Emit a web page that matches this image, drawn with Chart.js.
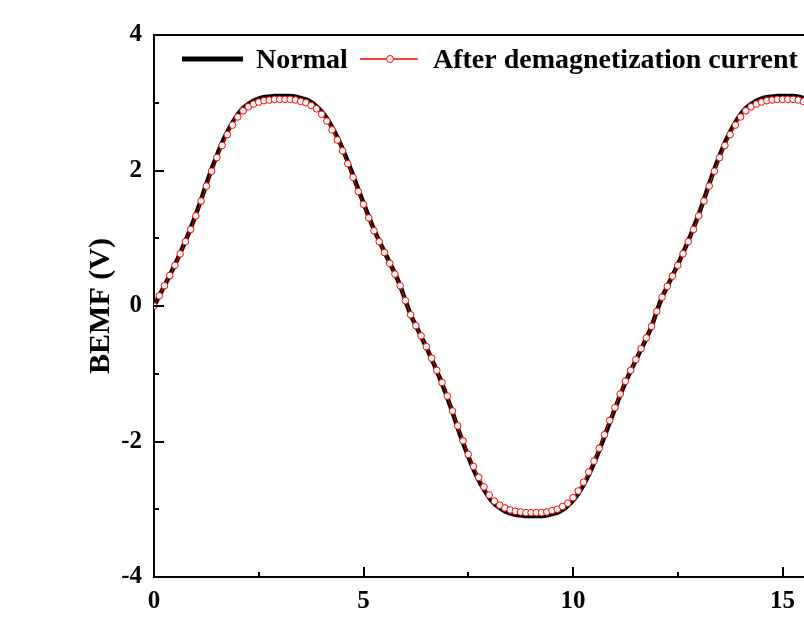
<!DOCTYPE html>
<html>
<head>
<meta charset="utf-8">
<script src="https://cdn.jsdelivr.net/npm/chart.js@4/dist/chart.umd.min.js"></script>
<style>
  html, body { margin: 0; padding: 0; width: 804px; height: 636px; overflow: hidden; background: #fff; }
  canvas { display: block; }
</style>
</head>
<body>
<canvas id="bemf" width="1000" height="636"></canvas>
<script>
// time axis (ms)
const timeMs = [
  0, 0.125, 0.25, 0.375, 0.5, 0.625, 0.75, 0.875,
  1, 1.125, 1.25, 1.375, 1.5, 1.625, 1.75, 1.875,
  2, 2.125, 2.25, 2.375, 2.5, 2.625, 2.75, 2.875,
  3, 3.125, 3.25, 3.375, 3.5, 3.625, 3.75, 3.875,
  4, 4.125, 4.25, 4.375, 4.5, 4.625, 4.75, 4.875,
  5, 5.125, 5.25, 5.375, 5.5, 5.625, 5.75, 5.875,
  6, 6.125, 6.25, 6.375, 6.5, 6.625, 6.75, 6.875,
  7, 7.125, 7.25, 7.375, 7.5, 7.625, 7.75, 7.875,
  8, 8.125, 8.25, 8.375, 8.5, 8.625, 8.75, 8.875,
  9, 9.125, 9.25, 9.375, 9.5, 9.625, 9.75, 9.875,
  10, 10.125, 10.25, 10.375, 10.5, 10.625, 10.75, 10.875,
  11, 11.125, 11.25, 11.375, 11.5, 11.625, 11.75, 11.875,
  12, 12.125, 12.25, 12.375, 12.5, 12.625, 12.75, 12.875,
  13, 13.125, 13.25, 13.375, 13.5, 13.625, 13.75, 13.875,
  14, 14.125, 14.25, 14.375, 14.5, 14.625, 14.75, 14.875,
  15, 15.125, 15.25, 15.375, 15.5, 15.625, 15.75, 15.875,
  16
];

const normal = [
  0, 0.15, 0.30, 0.45, 0.61, 0.78, 0.96, 1.15,
  1.35, 1.57, 1.80, 2.02, 2.22, 2.41, 2.57, 2.71,
  2.83, 2.92, 2.98, 3.03, 3.06, 3.08, 3.09, 3.10,
  3.10, 3.10, 3.10, 3.09, 3.07, 3.05, 3.01, 2.95,
  2.87, 2.77, 2.64, 2.49, 2.32, 2.13, 1.93, 1.72,
  1.52, 1.32, 1.13, 0.96, 0.80, 0.64, 0.48, 0.30,
  0.08, -0.13, -0.29, -0.45, -0.61, -0.78, -0.96, -1.15,
  -1.35, -1.57, -1.80, -2.02, -2.22, -2.41, -2.57, -2.71,
  -2.83, -2.92, -2.98, -3.03, -3.06, -3.08, -3.09, -3.10,
  -3.10, -3.10, -3.10, -3.09, -3.07, -3.05, -3.01, -2.95,
  -2.87, -2.77, -2.64, -2.49, -2.32, -2.13, -1.93, -1.72,
  -1.52, -1.32, -1.13, -0.96, -0.80, -0.64, -0.48, -0.30,
  -0.08, 0.13, 0.29, 0.45, 0.61, 0.78, 0.96, 1.15,
  1.35, 1.57, 1.80, 2.02, 2.22, 2.41, 2.57, 2.71,
  2.83, 2.92, 2.98, 3.03, 3.06, 3.08, 3.09, 3.10,
  3.10, 3.10, 3.10, 3.09, 3.07, 3.05, 3.01, 2.95,
  2.87
];

const afterDemag = [
  0, 0.15, 0.30, 0.45, 0.60, 0.77, 0.95, 1.13,
  1.33, 1.55, 1.77, 1.99, 2.19, 2.37, 2.53, 2.67,
  2.79, 2.88, 2.94, 2.98, 3.01, 3.03, 3.04, 3.05,
  3.05, 3.05, 3.05, 3.04, 3.02, 3.00, 2.96, 2.91,
  2.83, 2.73, 2.60, 2.45, 2.29, 2.10, 1.90, 1.69,
  1.50, 1.30, 1.11, 0.95, 0.79, 0.63, 0.47, 0.30,
  0.08, -0.13, -0.29, -0.44, -0.60, -0.77, -0.95, -1.13,
  -1.33, -1.55, -1.77, -1.99, -2.19, -2.37, -2.53, -2.67,
  -2.79, -2.88, -2.94, -2.98, -3.01, -3.03, -3.04, -3.05,
  -3.05, -3.05, -3.05, -3.04, -3.02, -3.00, -2.96, -2.91,
  -2.83, -2.73, -2.60, -2.45, -2.29, -2.10, -1.90, -1.69,
  -1.50, -1.30, -1.11, -0.95, -0.79, -0.63, -0.47, -0.30,
  -0.08, 0.13, 0.29, 0.44, 0.60, 0.77, 0.95, 1.13,
  1.33, 1.55, 1.77, 1.99, 2.19, 2.37, 2.53, 2.67,
  2.79, 2.88, 2.94, 2.98, 3.01, 3.03, 3.04, 3.05,
  3.05, 3.05, 3.05, 3.04, 3.02, 3.00, 2.96, 2.91,
  2.83
];

const seriesLabels = ['Normal', 'After demagnetization current'];
const yTitle = 'BEMF (V)';

const FONT = "'Liberation Serif', 'Times New Roman', serif";

// box frame + inward major/minor ticks
const frameTicks = {
  id: 'frameTicks',
  afterDraw(chart) {
    const { ctx, chartArea: a, scales: { x, y } } = chart;
    ctx.save();
    ctx.strokeStyle = '#000';
    ctx.lineWidth = 2;
    ctx.beginPath();
    ctx.moveTo(a.left - 1, a.top);
    ctx.lineTo(a.right + 1, a.top);
    ctx.moveTo(a.right, a.top);
    ctx.lineTo(a.right, a.bottom);
    for (let v = x.min; v <= x.max; v += 2.5) {
      const px = Math.round(x.getPixelForValue(v));
      const len = v % 5 === 0 ? 10 : 5;
      ctx.moveTo(px, a.bottom);
      ctx.lineTo(px, a.bottom - len);
    }
    for (let v = y.min; v <= y.max; v += 1) {
      const py = Math.round(y.getPixelForValue(v));
      const len = v % 2 === 0 ? 10 : 5;
      ctx.moveTo(a.left, py);
      ctx.lineTo(a.left + len, py);
    }
    ctx.stroke();
    ctx.restore();
  }
};

// legend inside the plot, one row
const innerLegend = {
  id: 'innerLegend',
  afterDraw(chart) {
    const { ctx, chartArea: a } = chart;
    const ly = a.top + 24;
    ctx.save();
    ctx.font = 'bold 28px ' + FONT;
    ctx.fillStyle = '#000';
    ctx.textBaseline = 'alphabetic';

    ctx.strokeStyle = '#000';
    ctx.lineWidth = 5;
    ctx.beginPath();
    ctx.moveTo(a.left + 28, ly);
    ctx.lineTo(a.left + 89, ly);
    ctx.stroke();
    ctx.fillText(chart.data.datasets[0].label, a.left + 102, ly + 9);

    ctx.strokeStyle = '#ff0000';
    ctx.lineWidth = 1.5;
    ctx.beginPath();
    ctx.moveTo(a.left + 206, ly);
    ctx.lineTo(a.left + 264, ly);
    ctx.stroke();
    ctx.beginPath();
    ctx.arc(a.left + 236, ly, 3.5, 0, Math.PI * 2);
    ctx.fillStyle = '#fff';
    ctx.fill();
    ctx.lineWidth = 1;
    ctx.stroke();
    ctx.fillStyle = '#000';
    ctx.fillText(chart.data.datasets[1].label, a.left + 279, ly + 9);
    ctx.restore();
  }
};

new Chart(document.getElementById('bemf'), {
  type: 'line',
  data: {
    labels: timeMs,
    datasets: [
      {
        label: seriesLabels[0],
        data: timeMs.map((t, i) => ({ x: t, y: normal[i] })),
        borderColor: '#000',
        borderWidth: 4.5,
        pointRadius: 0,
        tension: 0.2,
        order: 1
      },
      {
        label: seriesLabels[1],
        data: timeMs.map((t, i) => ({ x: t, y: afterDemag[i] })),
        borderColor: '#ff0000',
        borderWidth: 1,
        pointRadius: 3.3,
        pointBorderWidth: 1,
        pointBorderColor: '#ff0000',
        pointBackgroundColor: '#fff',
        tension: 0.2,
        order: 0
      }
    ]
  },
  options: {
    responsive: false,
    animation: false,
    devicePixelRatio: 1,
    layout: { padding: { left: 79, top: 35, right: 8, bottom: 0 } },
    plugins: {
      legend: { display: false },
      tooltip: { enabled: false }
    },
    scales: {
      x: {
        type: 'linear',
        min: 0,
        max: 20,
        grid: { display: false, drawTicks: false },
        border: { display: true, color: '#000', width: 2 },
        ticks: {
          stepSize: 5,
          padding: 10,
          color: '#000',
          maxRotation: 0,
          font: { family: FONT, size: 25, weight: 'bold' }
        },
        afterFit(scale) {
          scale.height = 59;
          scale.paddingLeft = 0;
          scale.paddingRight = 0;
        }
      },
      y: {
        min: -4,
        max: 4,
        grid: { display: false, drawTicks: false },
        border: { display: true, color: '#000', width: 2 },
        ticks: {
          stepSize: 2,
          padding: 12,
          color: '#000',
          font: { family: FONT, size: 25, weight: 'bold' }
        },
        title: {
          display: true,
          text: yTitle,
          color: '#000',
          padding: { top: 4, bottom: 0 },
          font: { family: FONT, size: 30, weight: 'bold' }
        },
        afterFit(scale) {
          scale.width = 75;
          scale.paddingTop = 0;
          scale.paddingBottom = 0;
        }
      }
    }
  },
  plugins: [frameTicks, innerLegend]
});
</script>
</body>
</html>
